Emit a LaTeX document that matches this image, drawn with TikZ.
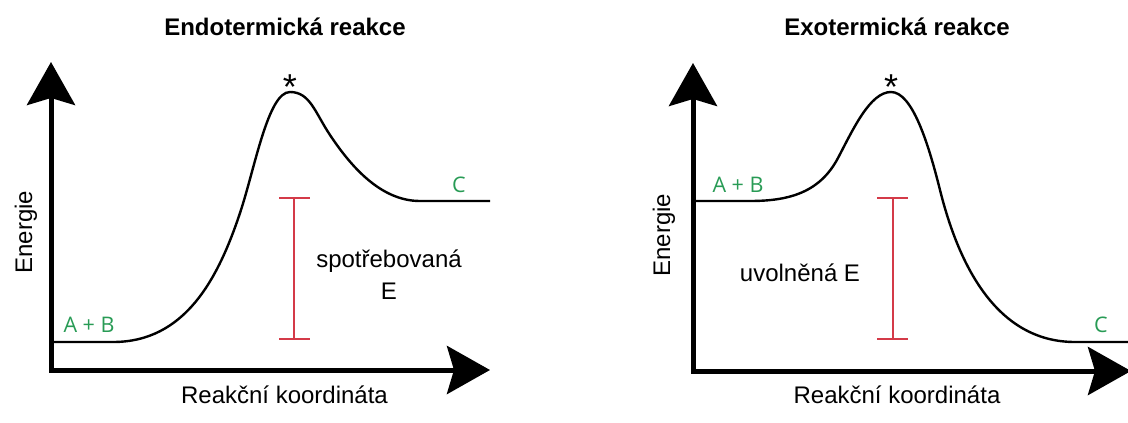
\documentclass[tikz,border=0pt]{standalone}
\usepackage{fontspec}
\setmainfont{Liberation Sans}
\newfontfamily\labfont{Open Sans}
\usetikzlibrary{arrows.meta}
\definecolor{lblgreen}{RGB}{40,155,85}
\definecolor{barred}{RGB}{212,58,72}
\begin{document}
\begin{tikzpicture}[x=1pt,y=-1pt,
  axis/.style={line width=5pt, line cap=rect, -{Stealth[length=43pt,width=48pt,inset=7pt]}},
  curve/.style={line width=2.4pt},
  bar/.style={draw=barred, line width=2.6pt},
  txt/.style={inner sep=0pt, anchor=base, font=\fontsize{24}{28}\selectfont},
  ttl/.style={inner sep=0pt, anchor=base, font=\fontsize{24}{28}\selectfont\bfseries},
  grn/.style={inner sep=0pt, anchor=base, text=lblgreen, font=\labfont\fontsize{21.5}{24}\selectfont},
  star/.style={inner sep=0pt, anchor=base, font=\fontsize{36}{40}\selectfont}]
\useasboundingbox (0,0) rectangle (1128,423);
% ---------- left panel ----------
\coordinate (oL) at (51,370);
\coordinate (yL) at (51,62);
\coordinate (xL) at (490,370);
\draw[axis] (oL) -- (yL);
\draw[axis] (oL) -- (xL);
\draw[curve] (51,342) -- (113,342)
  .. controls (185,342) and (218,279) .. (240,213)
  .. controls (255,168) and (268,92) .. (290,92)
  .. controls (310,92) and (315,112.5) .. (330,135)
  .. controls (350,165) and (380,201) .. (420,201)
  -- (490,201);
\node[star] (sL) at (290,99) {*};
\coordinate (btL) at (294,198);
\coordinate (bbL) at (294,339);
\coordinate (btL1) at (279,198);
\coordinate (btL2) at (310,198);
\coordinate (bbL1) at (279,339);
\coordinate (bbL2) at (310,339);
\draw[bar] (btL) -- (bbL);
\draw[bar] (btL1) -- (btL2);
\draw[bar] (bbL1) -- (bbL2);
\node[ttl] (tL) at (285,35) {Endotermická reakce};
\node[txt] (xlL) at (284.5,403) {Reakční koordináta};
\node[txt, rotate=90] (ylL) at (32,232) {Energie};
\node[txt] (e1L) at (389,267) {spotřebovaná};
\node[txt] (e2L) at (389,299) {E};
\node[grn] (abL) at (89,332) {A + B};
\node[grn] (cL) at (459,192) {C};
% ---------- right panel ----------
\coordinate (oR) at (693,371);
\coordinate (yR) at (693,63);
\coordinate (xR) at (1131,371);
\draw[axis] (oR) -- (yR);
\draw[axis] (oR) -- (xR);
\draw[curve] (693,201) -- (750,201)
  .. controls (790,201) and (820,192) .. (838,158)
  .. controls (853,129.5) and (870,92) .. (891,92)
  .. controls (912,92) and (928,142) .. (940,190)
  .. controls (958,262) and (995,342) .. (1075,342)
  -- (1128,342);
\node[star] (sR) at (891,99) {*};
\coordinate (btR) at (893,198);
\coordinate (bbR) at (893,339);
\coordinate (btR1) at (877,198);
\coordinate (btR2) at (908,198);
\coordinate (bbR1) at (877,339);
\coordinate (bbR2) at (908,339);
\draw[bar] (btR) -- (bbR);
\draw[bar] (btR1) -- (btR2);
\draw[bar] (bbR1) -- (bbR2);
\node[ttl] (tR) at (897,35) {Exotermická reakce};
\node[txt] (xlR) at (897,403) {Reakční koordináta};
\node[txt, rotate=90] (ylR) at (670,235) {Energie};
\node[txt] (eR) at (800,281) {uvolněná E};
\node[grn] (abR) at (738,192) {A + B};
\node[grn] (cR) at (1101,332) {C};
\end{tikzpicture}
\end{document}
